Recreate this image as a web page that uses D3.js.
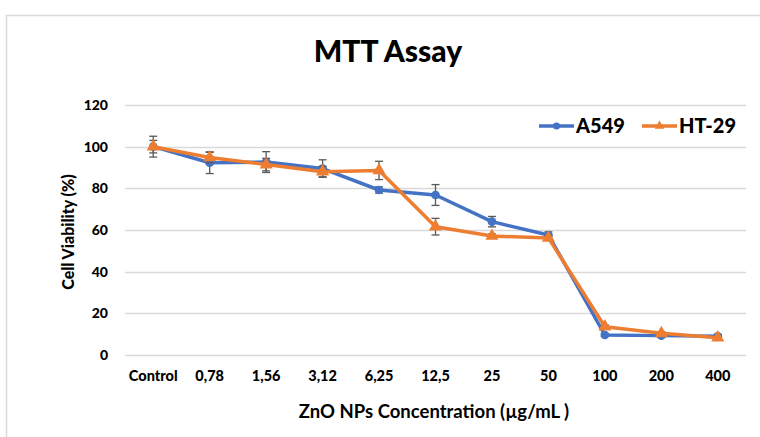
<!DOCTYPE html>
<html>
<head>
<meta charset="utf-8">
<script src="https://cdn.jsdelivr.net/npm/d3@7"></script>
<style>
  body { margin: 0; background: #fff; }
  text { font-family: Lato, "Open Sans", sans-serif; }
</style>
</head>
<body>
<div id="chart"></div>
<script>
// data
const categories = ['Control', '0,78', '1,56', '3,12', '6,25', '12,5', '25', '50', '100', '200', '400'];
const a549 = [100, 92.3, 92.6, 89.5, 79.2, 76.8, 64, 57.6, 9.6, 9.3, 9];
const a549Err = [5, 5.2, 5, 4.2, 1.5, 5, 2.5, 1.5, 0.8, 0.8, 0.8];
const ht29 = [100, 94.8, 91.4, 88, 88.6, 61.6, 57.1, 56.2, 13.6, 10.4, 8.3];
const ht29Err = [3, 2.5, 3, 2.5, 4.4, 4, 1, 1, 0.8, 0.8, 0.8];
const yTicks = [0, 20, 40, 60, 80, 100, 120];
const seriesNames = ['A549', 'HT-29'];

const W = 760, H = 437;
const margin = {left: 125, right: 14, top: 105, bottom: 82};
const blue = '#4472C4', orange = '#ED7D31';
const heavy = 900;

const svg = d3.select('#chart').append('svg')
  .attr('width', W).attr('height', H);

// chart frame
svg.append('rect')
  .attr('x', 6.5).attr('y', 15.5)
  .attr('width', W).attr('height', H)
  .attr('fill', 'none').attr('stroke', '#d9d9d9').attr('stroke-width', 1.5);

let x = d3.scaleBand().domain(categories)
  .range([margin.left, W - margin.right]);
let y = d3.scaleLinear().domain([0, 120])
  .range([H - margin.bottom, margin.top]);

// gridlines
svg.append('g')
  .selectAll('line').data(yTicks).enter().append('line')
  .attr('x1', margin.left).attr('x2', W - margin.right)
  .attr('y1', d => Math.round(y(d)) + 0.5)
  .attr('y2', d => Math.round(y(d)) + 0.5)
  .attr('stroke', '#d9d9d9').attr('stroke-width', 1.3);

// y axis
let yAxis = svg.append('g')
  .attr('transform', `translate(${margin.left}, 0)`)
  .call(d3.axisLeft(y).tickValues(yTicks).tickSize(0).tickPadding(17));
yAxis.select('.domain').remove();
yAxis.selectAll('text')
  .attr('font-size', 14).attr('font-weight', heavy).attr('fill', '#000')
  .style('font-family', 'Lato, sans-serif');

// x axis
let xAxis = svg.append('g')
  .attr('transform', `translate(0, ${y(0)})`)
  .call(d3.axisBottom(x).tickSize(0).tickPadding(16));
xAxis.select('.domain').remove();
xAxis.selectAll('text')
  .attr('font-size', 14.5).attr('font-weight', heavy).attr('fill', '#000')
  .style('font-family', 'Lato, sans-serif');

// titles
svg.append('text')
  .attr('x', 388).attr('y', 62)
  .attr('text-anchor', 'middle')
  .attr('font-size', 30).attr('font-weight', heavy)
  .text('MTT Assay');

svg.append('text')
  .attr('transform', `translate(74, ${(y(0) + y(120)) / 2 + 2}) rotate(-90)`)
  .attr('text-anchor', 'middle')
  .attr('font-size', 16).attr('font-weight', heavy)
  .text('Cell Viability (%)');

svg.append('text')
  .attr('x', 434).attr('y', 418)
  .attr('text-anchor', 'middle')
  .attr('font-size', 18.5).attr('font-weight', 'bold')
  .text('ZnO NPs Concentration (µg/mL )');

const cx = c => x(c) + x.bandwidth() / 2;

function drawSeries(values, errs, color, marker) {
  let g = svg.append('g');
  let pts = categories.map((c, i) => ({c: c, v: values[i], e: errs[i]}));

  // error bars
  let eb = g.selectAll('g.err').data(pts).enter().append('g')
    .attr('class', 'err').attr('stroke', '#595959').attr('stroke-width', 1.3);
  eb.append('line')
    .attr('x1', d => cx(d.c)).attr('x2', d => cx(d.c))
    .attr('y1', d => y(d.v + d.e)).attr('y2', d => y(d.v - d.e));
  eb.append('line')
    .attr('x1', d => cx(d.c) - 4).attr('x2', d => cx(d.c) + 4)
    .attr('y1', d => y(d.v + d.e)).attr('y2', d => y(d.v + d.e));
  eb.append('line')
    .attr('x1', d => cx(d.c) - 4).attr('x2', d => cx(d.c) + 4)
    .attr('y1', d => y(d.v - d.e)).attr('y2', d => y(d.v - d.e));

  g.append('path')
    .datum(pts)
    .attr('fill', 'none').attr('stroke', color).attr('stroke-width', 3.5)
    .attr('stroke-linejoin', 'round')
    .attr('d', d3.line().x(d => cx(d.c)).y(d => y(d.v)));

  g.selectAll('path.mk').data(pts).enter().append('path')
    .attr('class', 'mk')
    .attr('transform', d => `translate(${cx(d.c)}, ${y(d.v)})`)
    .attr('d', d3.symbol().type(marker).size(marker === d3.symbolCircle ? 60 : 75))
    .attr('fill', color);
}

drawSeries(a549, a549Err, blue, d3.symbolCircle);
drawSeries(ht29, ht29Err, orange, d3.symbolTriangle);

// legend
let legend = [
  {name: seriesNames[0], color: blue, marker: d3.symbolCircle, x: 539},
  {name: seriesNames[1], color: orange, marker: d3.symbolTriangle, x: 642}
];
let lg = svg.append('g').selectAll('g').data(legend).enter().append('g')
  .attr('transform', d => `translate(${d.x}, 126)`);
lg.append('line')
  .attr('x1', 0).attr('x2', 35).attr('y1', 0).attr('y2', 0)
  .attr('stroke', d => d.color).attr('stroke-width', 3.5);
lg.append('path')
  .attr('transform', 'translate(17.5, 0)')
  .attr('d', d => d3.symbol().type(d.marker).size(40)())
  .attr('fill', d => d.color);
lg.append('text')
  .attr('x', 37).attr('y', 7)
  .attr('font-size', 20).attr('font-weight', heavy)
  .text(d => d.name);
</script>
</body>
</html>
